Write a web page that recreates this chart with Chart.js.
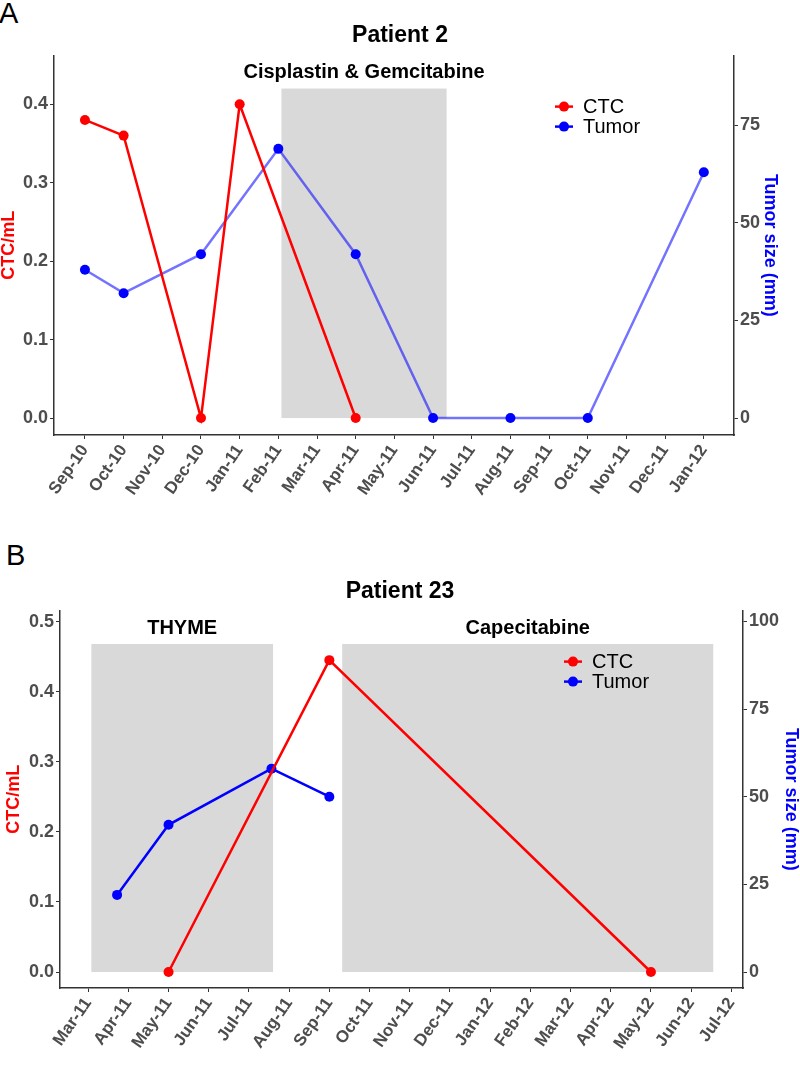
<!DOCTYPE html>
<html>
<head>
<meta charset="utf-8">
<title>Patient 2 / Patient 23</title>
<script src="https://cdn.jsdelivr.net/npm/chart.js@4.4.0/dist/chart.umd.min.js"></script>
<style>
  body { margin: 0; background: #fff; width: 800px; height: 1067px; position: relative; overflow: hidden; }
  .panel { position: absolute; left: 0; }
  .letter { position: absolute; left: 0; font-family: "Liberation Sans", Arial, sans-serif; font-size: 29px; color: #000; }
</style>
</head>
<body>
<div class="letter" style="top:-3px;left:-1px">A</div>
<canvas id="chartA" class="panel" style="top:0" width="800" height="530"></canvas>
<div class="letter" style="top:539px;left:6px">B</div>
<canvas id="chartB" class="panel" style="top:530px" width="800" height="537"></canvas>
<script>
// Panel A - Patient 2 (x values are month offsets from the first tick)
const monthsA = ["Sep-10", "Oct-10", "Nov-10", "Dec-10", "Jan-11", "Feb-11", "Mar-11", "Apr-11", "May-11",
                 "Jun-11", "Jul-11", "Aug-11", "Sep-11", "Oct-11", "Nov-11", "Dec-11", "Jan-12"];
const ctcMonthA = [0, 1, 3, 4, 7];
const ctcValA = [0.38, 0.36, 0.0, 0.40, 0.0];
const tumorMonthA = [0, 1, 3, 5, 7, 9, 11, 13, 16];
const tumorValA = [38, 32, 42, 69, 42, 0, 0, 0, 63];
const treatNameA = ["Cisplastin & Gemcitabine"];
const treatStartA = [5.08];
const treatEndA = [9.35];
const treatTopA = 0.42;

// Panel B - Patient 23
const monthsB = ["Mar-11", "Apr-11", "May-11", "Jun-11", "Jul-11", "Aug-11", "Sep-11", "Oct-11", "Nov-11",
                 "Dec-11", "Jan-12", "Feb-12", "Mar-12", "Apr-12", "May-12", "Jun-12", "Jul-12"];
const ctcMonthB = [2, 6, 14];
const ctcValB = [0.0, 0.445, 0.0];
const tumorMonthB = [0.72, 2, 4.56, 6];
const tumorValB = [22, 42, 58, 50];
const treatNameB = ["THYME", "Capecitabine"];
const treatStartB = [0.08, 6.32];
const treatEndB = [4.6, 15.55];
const treatTopB = 0.468;

Chart.defaults.font.family = "'Liberation Sans', Arial, sans-serif";
Chart.defaults.color = "#4d4d4d";

// grey treatment windows + their labels, and the ggplot-like legend
const treatmentPlugin = {
  id: "treatments",
  beforeDatasetsDraw(chart, args, opts) {
    const ctx = chart.ctx;
    const xs = chart.scales.x, ys = chart.scales.y;
    ctx.save();
    opts.names.forEach((name, i) => {
      const x0 = xs.getPixelForValue(opts.start[i]);
      const x1 = xs.getPixelForValue(opts.end[i]);
      const yTop = ys.getPixelForValue(opts.top);
      const yBot = ys.getPixelForValue(0);
      ctx.fillStyle = "#d9d9d9";
      ctx.fillRect(x0, yTop, x1 - x0, yBot - yTop);
      ctx.fillStyle = "#000";
      ctx.font = "bold 20px 'Liberation Sans', Arial";
      ctx.textAlign = "center";
      ctx.textBaseline = "middle";
      ctx.fillText(name, (x0 + x1) / 2, yTop - 16);
    });
    ctx.restore();
  },
  afterDraw(chart) {
    const ctx = chart.ctx;
    const area = chart.chartArea;
    const lx = area.right - 170, ly = area.top + 51;
    ctx.save();
    chart.data.datasets.forEach((ds, i) => {
      const y = ly + i * 20;
      ctx.strokeStyle = ds.legendColor;
      ctx.fillStyle = ds.legendColor;
      ctx.lineWidth = 2.5;
      ctx.beginPath();
      ctx.moveTo(lx - 9, y);
      ctx.lineTo(lx + 9, y);
      ctx.stroke();
      ctx.beginPath();
      ctx.arc(lx, y, 5, 0, Math.PI * 2);
      ctx.fill();
      ctx.fillStyle = "#000";
      ctx.font = "20px 'Liberation Sans', Arial";
      ctx.textAlign = "left";
      ctx.textBaseline = "middle";
      ctx.fillText(ds.label, lx + 19, y + 1);
    });
    ctx.restore();
  }
};

function points(xs, ys) {
  return xs.map((x, i) => ({ x: x, y: ys[i] }));
}

function makeChart(id, p) {
  const tickFont = { size: 18, weight: "bold" };
  const axisGrid = { drawOnChartArea: false, drawTicks: true, tickLength: 4, color: "#333", tickColor: "#333" };
  const axisBorder = { display: true, color: "#333", width: 1.5 };
  return new Chart(document.getElementById(id), {
    type: "line",
    data: {
      datasets: [
        {
          label: "CTC",
          data: points(p.ctcMonth, p.ctcVal),
          yAxisID: "y",
          borderColor: "#ff0000",
          backgroundColor: "#ff0000",
          legendColor: "#ff0000",
          borderWidth: 2.5,
          pointRadius: 5,
          pointBorderWidth: 0,
          tension: 0
        },
        {
          label: "Tumor",
          data: points(p.tumorMonth, p.tumorVal),
          yAxisID: "y2",
          borderColor: p.tumorLine,
          backgroundColor: "#0000ff",
          pointBackgroundColor: "#0000ff",
          legendColor: "#0000ff",
          borderWidth: 2.5,
          pointRadius: 5,
          pointBorderWidth: 0,
          tension: 0
        }
      ]
    },
    options: {
      responsive: false,
      animation: false,
      devicePixelRatio: 1,
      layout: { padding: 0 },
      plugins: {
        legend: { display: false },
        tooltip: { enabled: false },
        title: {
          display: true,
          text: p.title,
          color: "#000",
          font: { size: 23, weight: "bold" },
          padding: p.titlePad
        },
        treatments: { names: p.treatName, start: p.treatStart, end: p.treatEnd, top: p.treatTop }
      },
      scales: {
        x: {
          type: "linear",
          min: p.xMin,
          max: p.xMax,
          grid: axisGrid,
          border: axisBorder,
          afterFit: (s) => { s.height = p.xHeight; },
          ticks: {
            stepSize: 1,
            includeBounds: false,
            autoSkip: false,
            minRotation: 55,
            maxRotation: 55,
            padding: 2,
            font: { size: 17, weight: "bold" },
            callback: (v) => p.months[v]
          }
        },
        y: {
          position: "left",
          min: p.yMin,
          max: p.yMax,
          grid: axisGrid,
          border: axisBorder,
          afterFit: (s) => { s.width = p.leftW; },
          ticks: {
            stepSize: 0.1,
            includeBounds: false,
            padding: 2,
            font: tickFont,
            callback: (v) => v.toFixed(1)
          },
          title: {
            display: true,
            text: "CTC/mL",
            color: "#ff0000",
            font: { size: 18, weight: "bold", lineHeight: 1 },
            padding: { top: p.leftTitlePad, bottom: 0 }
          }
        },
        y2: {
          position: "right",
          min: p.y2Min,
          max: p.y2Max,
          grid: axisGrid,
          border: axisBorder,
          afterFit: (s) => { s.width = p.rightW; },
          ticks: {
            stepSize: 25,
            includeBounds: false,
            padding: 2,
            font: tickFont
          },
          title: {
            display: true,
            text: "Tumor size (mm)",
            color: "#0000ff",
            font: { size: 18, weight: "bold", lineHeight: 1 },
            padding: { top: p.rightTitlePad, bottom: 0 }
          }
        }
      }
    },
    plugins: [treatmentPlugin]
  });
}

makeChart("chartA", {
  title: "Patient 2",
  titlePad: { top: 22, bottom: 6 },
  months: monthsA,
  ctcMonth: ctcMonthA, ctcVal: ctcValA,
  tumorMonth: tumorMonthA, tumorVal: tumorValA,
  tumorLine: "rgba(0, 0, 255, 0.55)",
  treatName: treatNameA, treatStart: treatStartA, treatEnd: treatEndA, treatTop: treatTopA,
  xMin: -0.8, xMax: 16.78,
  yMin: -0.0216, yMax: 0.462,
  y2Min: -4.35, y2Max: 92.9,
  leftW: 54, rightW: 66, xHeight: 95,
  leftTitlePad: 0, rightTitlePad: 21
});

makeChart("chartB", {
  title: "Patient 23",
  titlePad: { top: 48, bottom: 5 },
  months: monthsB,
  ctcMonth: ctcMonthB, ctcVal: ctcValB,
  tumorMonth: tumorMonthB, tumorVal: tumorValB,
  tumorLine: "#0000ff",
  treatName: treatNameB, treatStart: treatStartB, treatEnd: treatEndB, treatTop: treatTopB,
  xMin: -0.7, xMax: 16.29,
  yMin: -0.0228, yMax: 0.5157,
  y2Min: -4.56, y2Max: 103.1,
  leftW: 60, rightW: 57, xHeight: 79,
  leftTitlePad: 5, rightTitlePad: 0
});
</script>
</body>
</html>
